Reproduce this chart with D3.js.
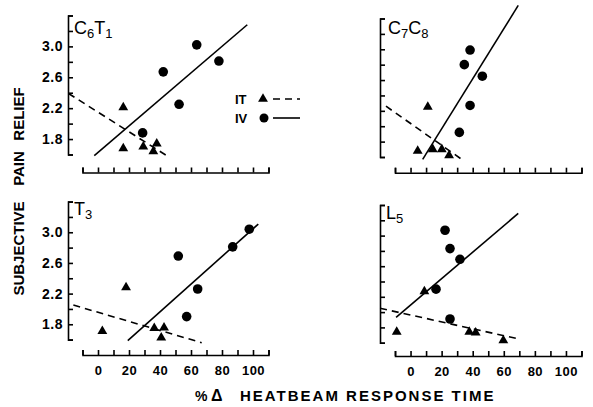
<!DOCTYPE html>
<html><head><meta charset="utf-8">
<script src="https://cdn.jsdelivr.net/npm/d3@7"></script>
<style>
html,body{margin:0;padding:0;background:#fff;}
svg{display:block;}
text{font-family:"Liberation Sans",Arial,sans-serif;fill:#000;}
</style></head>
<body>
<svg id="chart" width="593" height="407"></svg>
<script>
// ---------- data ----------
const panelNames = ["C6T1", "C7C8", "T3", "L5"];

const xTicks = [-10, 0, 10, 20, 30, 40, 50, 60, 70, 80, 90, 100, 110];
const xTickLabels = [0, 20, 40, 60, 80, 100];
const yTicks = [1.6, 1.8, 2.0, 2.2, 2.4, 2.6, 2.8, 3.0, 3.2, 3.4];
const yTickLabels = [1.8, 2.2, 2.6, 3.0];

// IV (circles) points [%change, relief]
const C6T1_IV = [[28.8, 1.88], [42.1, 2.67], [52.3, 2.25], [63.7, 3.02], [78, 2.81]];
const C7C8_IV = [[31.4, 1.92], [34.6, 2.80], [38.3, 2.99], [38.3, 2.27], [46.2, 2.65]];
const T3_IV   = [[51.8, 2.69], [57.2, 1.90], [64.3, 2.26], [86.9, 2.81], [97.6, 3.04]];
const L5_IV   = [[16.4, 2.30], [22.2, 3.07], [25.4, 2.83], [25.4, 1.91], [31.8, 2.69]];

// IT (triangles) points
const C6T1_IT = [[16.3, 2.21], [16.3, 1.68], [29.2, 1.70], [35.7, 1.64], [37.9, 1.74]];
const C7C8_IT = [[4.6, 1.68], [11.1, 2.25], [14.3, 1.70], [20.1, 1.70], [24.8, 1.62]];
const T3_IT   = [[2.8, 1.71], [18.1, 2.28], [36.3, 1.75], [40.8, 1.625], [42.6, 1.755]];
const L5_IT   = [[-8.9, 1.74], [8.9, 2.27], [37.8, 1.74], [41.9, 1.73], [59.7, 1.63]];

// regression lines [start, end]
const C6T1_IV_LINE = [[-2.4, 1.585], [96.3, 3.28]];
const C6T1_IT_LINE = [[-19, 2.39], [44.3, 1.585]];
const C7C8_IV_LINE = [[7.8, 1.57], [69.3, 3.57]];
const C7C8_IT_LINE = [[-15.8, 2.26], [32.9, 1.57]];
const T3_IV_LINE   = [[19.2, 1.586], [103.4, 3.107]];
const T3_IT_LINE   = [[-15.9, 2.05], [66.9, 1.56]];
const L5_IV_LINE   = [[-9.3, 1.93], [69.3, 3.29]];
const L5_IT_LINE   = [[-19.6, 2.05], [70.4, 1.645]];

const seriesNames = ["IT", "IV"];
const xTitle = ["%", "\u0394", "HEATBEAM RESPONSE TIME"];
const yTitleWords = ["SUBJECTIVE", "PAIN", "RELIEF"];

// ---------- layout ----------
const layout = {
  C6T1: {axisX: 68, xr: [82.5, 268.5], yr: [154.5, 15.5], xAxisY: 172.5, lab: [74, 34], showY: true, showX: false},
  C7C8: {axisX: 380, xr: [395, 581.5], yr: [157, 18.5], xAxisY: 172.7, lab: [388, 34], showY: false, showX: false},
  T3:   {axisX: 68, xr: [82.5, 268.5], yr: [339.6, 201.6], xAxisY: 355, lab: [74, 215], showY: true, showX: true},
  L5:   {axisX: 380, xr: [395, 581.5], yr: [342.7, 205], xAxisY: 356, lab: [386, 219], showY: false, showX: true}
};
const data = {
  C6T1: {iv: C6T1_IV, it: C6T1_IT, ivLine: C6T1_IV_LINE, itLine: C6T1_IT_LINE},
  C7C8: {iv: C7C8_IV, it: C7C8_IT, ivLine: C7C8_IV_LINE, itLine: C7C8_IT_LINE},
  T3:   {iv: T3_IV, it: T3_IT, ivLine: T3_IV_LINE, itLine: T3_IT_LINE},
  L5:   {iv: L5_IV, it: L5_IT, ivLine: L5_IV_LINE, itLine: L5_IT_LINE}
};
const labelParts = {
  C6T1: [["C", false], ["6", true], ["T", false], ["1", true]],
  C7C8: [["C", false], ["7", true], ["C", false], ["8", true]],
  T3:   [["T", false], ["3", true]],
  L5:   [["L", false], ["5", true]]
};

const svg = d3.select("#chart");
const tri = d3.symbol().type(d3.symbolTriangle).size(42);
const dash = "7,5";

panelNames.forEach(name => {
  const L = layout[name], D = data[name];
  const x = d3.scaleLinear().domain([-10, 110]).range(L.xr);
  const y = d3.scaleLinear().domain([1.6, 3.4]).range(L.yr);
  const g = svg.append("g");

  // y axis: bracket with inward ticks
  const ya = g.append("g").attr("transform", `translate(${L.axisX},0)`)
    .call(d3.axisRight(y).tickValues(yTicks).tickFormat("").tickSizeInner(5).tickSizeOuter(5));
  ya.selectAll("path,line").attr("stroke", "#000").attr("stroke-width", 1.6);
  if (L.showY) {
    const yl = g.append("g").attr("transform", `translate(${L.axisX},0)`)
      .call(d3.axisLeft(y).tickValues(yTickLabels).tickFormat(d3.format(".1f")).tickSize(0).tickPadding(5));
    yl.select(".domain").remove();
    yl.selectAll("text").attr("font-size", 14).attr("font-weight", "bold")
      .attr("font-family", "Liberation Sans, Arial, sans-serif").attr("letter-spacing", 0.5);
  }

  // x axis: line with upward ticks
  const xa = g.append("g").attr("transform", `translate(0,${L.xAxisY})`)
    .call(d3.axisTop(x).tickValues(xTicks).tickFormat("").tickSizeInner(5).tickSizeOuter(5));
  xa.selectAll("path,line").attr("stroke", "#000").attr("stroke-width", 1.6);
  if (L.showX) {
    const xl = g.append("g").attr("transform", `translate(0,${L.xAxisY})`)
      .call(d3.axisBottom(x).tickValues(xTickLabels).tickSize(0).tickPadding(11));
    xl.select(".domain").remove();
    xl.selectAll("text").attr("font-size", 13).attr("font-weight", "bold")
      .attr("font-family", "Liberation Sans, Arial, sans-serif").attr("letter-spacing", 0.5);
  }

  // panel label
  const t = g.append("text").attr("x", L.lab[0]).attr("y", L.lab[1]).attr("font-size", 18);
  labelParts[name].forEach(([s, sub]) => {
    t.append("tspan").text(s).attr("font-size", sub ? 13 : 18)
      .attr("dy", sub ? 4 : -4);
  });
  t.select("tspan").attr("dy", 0);

  // regression lines
  const line = d3.line().x(d => x(d[0])).y(d => y(d[1]));
  g.append("path").attr("d", line(D.itLine)).attr("fill", "none").attr("stroke", "#000")
    .attr("stroke-width", 1.6).attr("stroke-dasharray", dash);
  g.append("path").attr("d", line(D.ivLine)).attr("fill", "none").attr("stroke", "#000")
    .attr("stroke-width", 1.6);

  // points
  g.selectAll(".tri").data(D.it).join("path").attr("class", "tri")
    .attr("d", tri).attr("transform", d => `translate(${x(d[0])},${y(d[1])})`).attr("fill", "#000");
  g.selectAll(".dot").data(D.iv).join("circle").attr("class", "dot")
    .attr("cx", d => x(d[0])).attr("cy", d => y(d[1])).attr("r", 4.8).attr("fill", "#000");
});

// legend
const lg = svg.append("g");
[[seriesNames[0], 99, true], [seriesNames[1], 118, false]].forEach(([s, yy, isIT]) => {
  lg.append("text").attr("x", 235).attr("y", yy + 5).attr("font-size", 13).attr("font-weight", "bold").text(s);
  if (isIT) lg.append("path").attr("d", tri).attr("transform", `translate(263,${yy})`).attr("fill", "#000");
  else lg.append("circle").attr("cx", 264).attr("cy", yy).attr("r", 4.5).attr("fill", "#000");
  lg.append("line").attr("x1", 273).attr("x2", 300).attr("y1", yy).attr("y2", yy)
    .attr("stroke", "#000").attr("stroke-width", 1.6).attr("stroke-dasharray", isIT ? dash : null);
});

// y title
const yCenters = [248.5, 168.5, 114];
yTitleWords.forEach((w, i) => {
  svg.append("text").attr("transform", `translate(24,${yCenters[i]}) rotate(-90)`)
    .attr("text-anchor", "middle").attr("font-size", 15).attr("font-weight", "bold").text(w);
});

// x title
svg.append("text").attr("x", 195).attr("y", 401).attr("font-size", 14).attr("font-weight", "bold").text(xTitle[0]);
svg.append("text").attr("x", 211).attr("y", 401).attr("font-size", 16).attr("font-weight", "bold").text(xTitle[1]);
svg.append("text").attr("x", 240).attr("y", 401).attr("font-size", 15).attr("font-weight", "bold")
  .attr("letter-spacing", 2).text(xTitle[2]);
</script>
</body></html>
